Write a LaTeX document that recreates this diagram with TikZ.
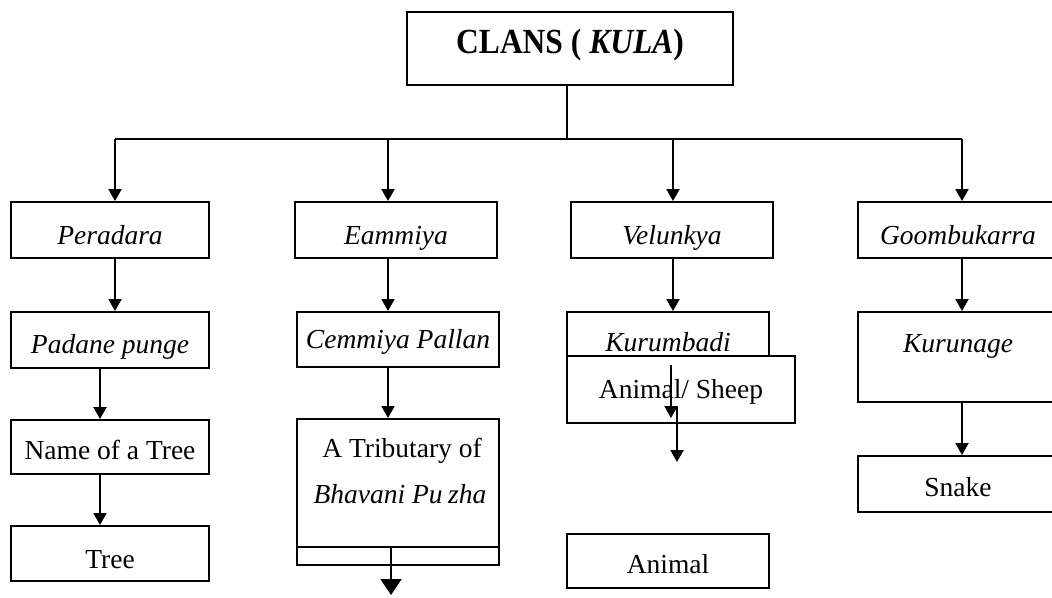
\documentclass[tikz,border=0pt]{standalone}
\usepackage{graphicx}
\usepackage{fontspec}
\setmainfont{Liberation Serif}
\usetikzlibrary{arrows.meta}
\begin{document}
\begin{tikzpicture}[x=1pt,y=-1pt,
  box/.style={draw, line width=2pt, inner sep=0pt, anchor=north,
    font=\fontsize{27.5}{31}\selectfont},
  label/.style={inner sep=0pt, anchor=base, font=\fontsize{27.5}{31}\selectfont},
  link/.style={line width=2pt},
  arr/.style={line width=2pt, -{Triangle[width=13pt,length=12pt]}},
  bigarr/.style={line width=2pt, -{Triangle[width=21pt,length=16pt]}}]

\path[use as bounding box] (0,0) rectangle (1052,597);
\clip (0,0) rectangle (1052,597);

% root
\node[box, minimum width=326pt, text height=41pt, text depth=32pt] (clans) at (570,11)
  {\scalebox{1}[1.12]{\fontsize{31.5}{36}\selectfont\bfseries CLANS ( \textit{KULA})}};

% first column
\node[box, minimum width=198pt, text height=42pt, text depth=14pt] (peradara) at (110,201) {\textit{Peradara}};
\node[box, minimum width=198pt, text height=41pt, text depth=15pt] (padane) at (110,311) {\textit{Padane punge}};
\node[box, minimum width=198pt, text height=39pt, text depth=15pt] (treename) at (110,419) {Name of a Tree};
\node[box, minimum width=198pt, text height=42pt, text depth=13pt] (tree) at (110,525) {Tree};

% second column
\node[box, minimum width=202pt, text height=42pt, text depth=14pt] (eammiya) at (396,201) {\textit{Eammiya}};
\node[box, minimum width=202pt, text height=36pt, text depth=19pt] (cemmiya) at (398,311) {\textit{Cemmiya Pallan}};
\node[box, minimum width=202pt, minimum height=146pt] (tributary) at (398,418) {};
\node[label] (tribA) at (402,457) {A Tributary of};
\node[label] (tribB) at (400,503) {\textit{Bhavani Pu\hspace{0.2em}zha}};
\coordinate (ledge) at (398,547);
\draw[link] (tributary.west |- ledge) -- (tributary.east |- ledge);

% third column
\node[box, minimum width=202pt, text height=42pt, text depth=14pt] (velunkya) at (672,201) {\textit{Velunkya}};
\node[box, minimum width=202pt, text height=39pt, text depth=16pt] (kurumbadi) at (668,311) {\textit{Kurumbadi}};
\node[box, fill=white, minimum width=228pt, text height=42pt, text depth=25pt] (sheep) at (681,355) {Animal/ Sheep};
\node[box, minimum width=202pt, text height=39pt, text depth=15pt] (animal) at (668,533) {Animal};

% fourth column
\node[box, minimum width=200pt, text height=42pt, text depth=14pt] (goomb) at (958,201) {\textit{Goombukarra}};
\node[box, minimum width=200pt, text height=40pt, text depth=50pt] (kurunage) at (958,311) {\textit{Kurunage}};
\node[box, minimum width=200pt, text height=40pt, text depth=16pt] (snake) at (958,455) {Snake};

% branching bus
\coordinate (bus) at (567,139);
\coordinate (d1) at (115,139);
\coordinate (d2) at (388,139);
\coordinate (d3) at (673,139);
\coordinate (d4) at (962,139);
\draw[link] (clans.south -| bus) -- (bus);
\draw[link] (d1) -- (d4);
\draw[arr] (d1) -- (d1 |- peradara.north);
\draw[arr] (d2) -- (d2 |- eammiya.north);
\draw[arr] (d3) -- (d3 |- velunkya.north);
\draw[arr] (d4) -- (d4 |- goomb.north);

% first column links
\draw[arr] (peradara.south -| d1) -- (padane.north -| d1);
\draw[arr] ([xshift=-10pt]padane.south) -- ([xshift=-10pt]treename.north);
\draw[arr] ([xshift=-10pt]treename.south) -- ([xshift=-10pt]tree.north);

% second column links
\draw[arr] (eammiya.south -| d2) -- (cemmiya.north -| d2);
\draw[arr] (cemmiya.south -| d2) -- (tributary.north -| d2);
\coordinate (tribout) at (391,595);
\draw[bigarr] (tribout |- ledge) -- (tribout);

% third column links
\draw[arr] (velunkya.south -| d3) -- (kurumbadi.north -| d3);
\coordinate (s1) at (671,365);
\coordinate (s2) at (671,418);
\coordinate (s3) at (677,407);
\coordinate (s4) at (677,462);
\draw[arr] (s1) -- (s2);
\draw[arr] (s3) -- (s4);

% fourth column links
\draw[arr] (goomb.south -| d4) -- (kurunage.north -| d4);
\draw[arr] (kurunage.south -| d4) -- (snake.north -| d4);
\end{tikzpicture}
\end{document}
